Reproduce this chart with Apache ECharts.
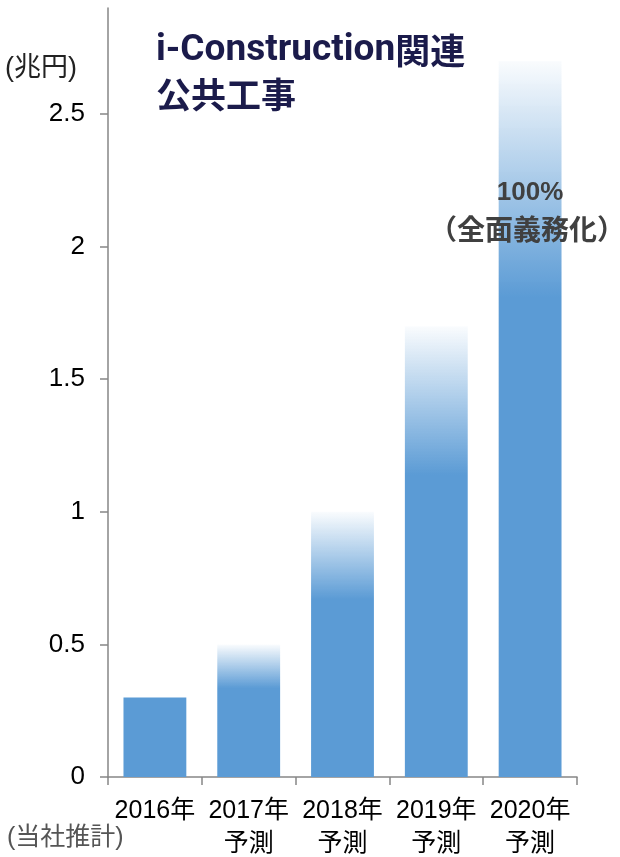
<!DOCTYPE html>
<html><head><meta charset="utf-8">
<script src="https://cdn.jsdelivr.net/npm/echarts@6/dist/echarts.min.js"></script>
<style>html,body{margin:0;padding:0;background:#fff;overflow:hidden}#c{width:620px;height:857px}</style>
</head><body><div id="c"></div>
<script>
const years = ['2016年','2017年','2018年','2019年','2020年'];
const subLabels = ['','予測','予測','予測','予測'];
const values = [0.3, 0.5, 1.0, 1.7, 2.7];
const yTicks = [0, 0.5, 1, 1.5, 2, 2.5];
const unitLabel = '(兆円)';
const sourceNote = '(当社推計)';
const titleLatin = 'i-Construction';
const titleKanji1 = '関連';
const titleLine2 = '公共工事';
const noteLine1 = '100%';
const noteLine2 = '（全面義務化）';

const BLUE = '#5B9BD5';
const categories = years.map((y,i)=> subLabels[i] ? y + '\n' + subLabels[i] : y);
const fade = {type:'linear',x:0,y:0,x2:0,y2:1,colorStops:[
  {offset:0,color:'rgba(91,155,213,0.03)'},
  {offset:0.33,color:BLUE},
  {offset:1,color:BLUE}]};
const data = values.map((v,i)=>({value:v,itemStyle:{color: subLabels[i] ? fade : BLUE}}));

const chart = echarts.init(document.getElementById('c'), null, {renderer:'canvas'});
const axisColor = '#868686';
chart.setOption({
  animation:false,
  grid:{left:108,right:43,top:8,bottom:80,containLabel:false,outerBoundsMode:'none'},
  xAxis:{type:'category',data:categories,
    axisLine:{lineStyle:{color:axisColor,width:1.5}},
    axisTick:{show:true,length:8,lineStyle:{color:axisColor,width:1.5}},
    axisLabel:{color:'#000',fontSize:25,fontFamily:'Liberation Sans, Noto Sans CJK JP',lineHeight:33,margin:18,interval:0}
  },
  yAxis:{type:'value',min:0,max:2.9,interval:0.5,
    splitLine:{show:false},
    axisLine:{show:true,lineStyle:{color:axisColor,width:1.5}},
    axisTick:{show:true,length:8,customValues:yTicks,lineStyle:{color:axisColor,width:1.5}},
    axisLabel:{color:'#000',fontSize:26,fontFamily:'Liberation Sans',margin:23,customValues:yTicks}
  },
  series:[{type:'bar',data:data,barWidth:'67%'}],
  graphic:[
    {type:'text',z:100,left:5,top:55,style:{text:unitLabel,fontSize:27,fill:'#222',fontFamily:'Liberation Sans, Noto Sans CJK JP'}},
    {type:'text',z:100,left:7,top:826,style:{text:sourceNote,fontSize:25,fill:'#555',fontFamily:'Liberation Sans, Noto Sans CJK JP'}},
    {type:'text',z:100,left:156,top:32,style:{
      text:'{a|'+titleLatin+'}{b|'+titleKanji1+'}\n{b|'+titleLine2+'}',
      rich:{a:{fontSize:37,fontWeight:'bold',fontFamily:'Roboto',fill:'#1B1B4B',lineHeight:44},
            b:{fontSize:35,fontWeight:'bold',fontFamily:'Noto Sans CJK JP',fill:'#1B1B4B',lineHeight:44}}}},
    {type:'text',z:100,x:530,y:193,style:{text:noteLine1,fontSize:26,fontWeight:'bold',fill:'#404040',fontFamily:'Liberation Sans',align:'center',verticalAlign:'middle'}},
    {type:'text',z:100,x:527,y:229,style:{text:noteLine2,fontSize:28,fontWeight:'bold',fill:'#404040',fontFamily:'Noto Sans CJK JP',align:'center',verticalAlign:'middle'}}
  ]
});
</script></body></html>
